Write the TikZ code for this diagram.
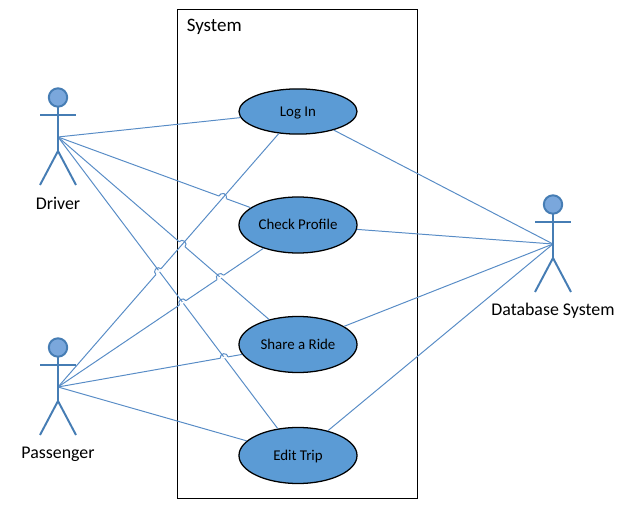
\documentclass[tikz,border=0pt]{standalone}
\usepackage{fontspec}
\setmainfont{Carlito}
\usetikzlibrary{positioning,shapes.geometric,decorations.markings}
\definecolor{UseBlue}{RGB}{91,155,213}
\definecolor{ActorLine}{RGB}{70,125,180}
\definecolor{HeadBlue}{RGB}{122,167,220}
\definecolor{LinkBlue}{RGB}{88,140,198}
\tikzset{
  usecase/.style={ellipse,draw=black,fill=UseBlue,line width=0.9pt,inner sep=0pt,
    minimum width=2.95cm,minimum height=1.4cm,text height=7.5pt,text depth=1pt,
    font=\fontsize{10.6}{12}\selectfont},
  sysbox/.style={draw=black,line width=0.7pt,minimum width=5.975cm,minimum height=12.2cm},
  lbl/.style={inner sep=0pt,font=\fontsize{12.7}{15}\selectfont},
  link/.style={draw=LinkBlue,line width=0.7pt},
  hop/.style={postaction={decorate,decoration={markings,mark=at position #1 with {
    \draw[white,line width=1.2pt] (-2.8pt,0pt)--(2.8pt,0pt);
    \draw[LinkBlue,line width=0.7pt] (-2.8pt,0pt) arc (180:0:2.8pt);}}}},
  actor/.pic={
    \draw[ActorLine,line width=1.4pt,fill=HeadBlue] (0,39.5) circle (9.2);
    \draw[ActorLine,line width=1.4pt] (0,30)--(0,-14);
    \draw[ActorLine,line width=1.4pt] (-18,22)--(18,22);
    \draw[ActorLine,line width=1.4pt] (-18,-48)--(0,-14)--(18,-48);
  },
}

\begin{document}
\begin{tikzpicture}[x=0.025cm,y=0.025cm]
\useasboundingbox (0,0) rectangle (620,508);
\coordinate (drv) at (58,371);
\coordinate (pas) at (58,121);
\coordinate (dbs) at (553,264);
\node[sysbox] (sys) at (297.5,254) {};
\node[lbl,anchor=west,font=\fontsize{13.5}{16}\selectfont] (systxt) at (186.5,481) {System};
\node[usecase,minimum height=1.13cm] (login) at (298,396.5) {Log In};
\node[usecase] (check) at (298,283) {Check Profile};
\node[usecase] (share) at (298,163.5) {Share a Ride};
\node[usecase] (edit) at (298,52.5) {Edit Trip};
% driver side
\draw[link] (drv)--(login);
\draw[link,hop=0.855] (drv)--(check);
\draw[link] (drv)--(edit);
\draw[link,hop=0.588] (drv)--(share);
% passenger side
\draw[link,hop=0.455] (pas)--(login);
\draw[link,hop=0.607,hop=0.79] (pas)--(check);
\draw[link,hop=0.903] (pas)--(share);
\draw[link] (pas)--(edit);
% database side
\draw[link] (dbs)--(login);
\draw[link] (dbs)--(check);
\draw[link] (dbs)--(share);
\draw[link] (dbs)--(edit);
\pic at (drv) {actor};
\pic at (pas) {actor};
\pic at (dbs) {actor};
\node[lbl] (drvtxt) at (58,305) {Driver};
\node[lbl] (pastxt) at (58,54) {Passenger};
\node[lbl] (dbstxt) at (553,197.5) {Database System};
\end{tikzpicture}
\end{document}
